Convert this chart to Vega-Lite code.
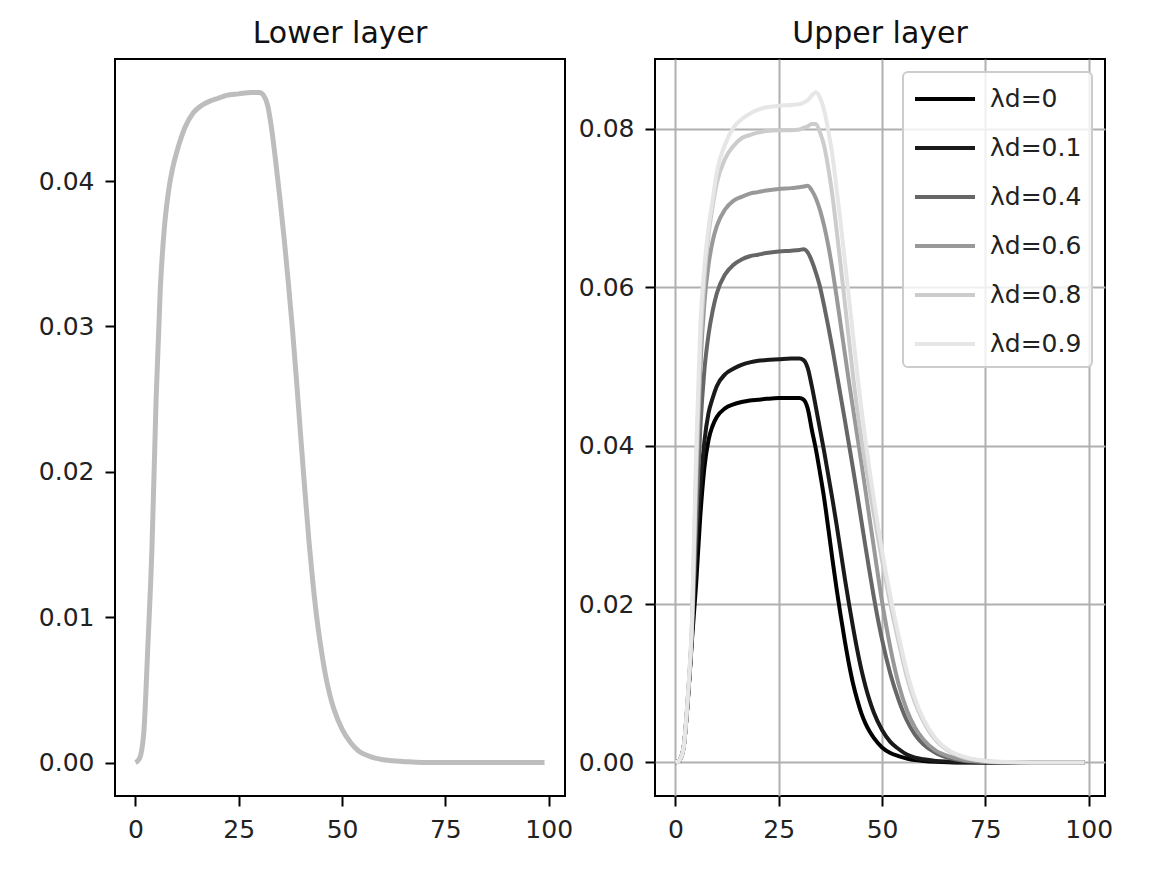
{
  "$schema": "https://vega.github.io/schema/vega-lite/v6.json",
  "background": "white",
  "padding": {"left": 37, "top": 18, "right": 10, "bottom": 10},
  "datasets": {
    "lower": [
      {"x":0,"y":0},{"x":1,"y":0.0003},{"x":2,"y":0.002},{"x":3,"y":0.008},{"x":4,"y":0.0148},{"x":5,"y":0.025},{"x":6,"y":0.0325},{"x":7,"y":0.0368},{"x":8,"y":0.0393},{"x":9,"y":0.0409},{"x":10,"y":0.042},{"x":12,"y":0.0437},{"x":14,"y":0.0447},{"x":16,"y":0.0452},{"x":18,"y":0.0455},{"x":20,"y":0.0457},{"x":22,"y":0.0459},{"x":25,"y":0.046},{"x":28,"y":0.0461},{"x":30,"y":0.0461},{"x":31,"y":0.0459},{"x":32,"y":0.0452},{"x":33,"y":0.0435},{"x":34,"y":0.0412},{"x":35,"y":0.0387},{"x":36,"y":0.036},{"x":37,"y":0.033},{"x":38,"y":0.0298},{"x":39,"y":0.0262},{"x":40,"y":0.0224},{"x":41,"y":0.0187},{"x":42,"y":0.0152},{"x":43,"y":0.0122},{"x":44,"y":0.0097},{"x":45,"y":0.0077},{"x":46,"y":0.006},{"x":47,"y":0.0047},{"x":48,"y":0.0037},{"x":50,"y":0.0023},{"x":52,"y":0.0014},{"x":54,"y":0.0008},{"x":56,"y":0.0005},{"x":58,"y":0.0003},{"x":60,"y":0.0002},{"x":63,"y":0.0001},{"x":66,"y":0.00005},{"x":70,"y":0},{"x":75,"y":0},{"x":80,"y":0},{"x":90,"y":0},{"x":99,"y":0}
    ],
    "upper": [
      {"s":"λd=0","x":0,"y":0},{"s":"λd=0","x":1,"y":0.0003},{"s":"λd=0","x":2,"y":0.002},{"s":"λd=0","x":3,"y":0.0078},{"s":"λd=0","x":4,"y":0.0155},{"s":"λd=0","x":5,"y":0.0225},{"s":"λd=0","x":6,"y":0.031},{"s":"λd=0","x":7,"y":0.0372},{"s":"λd=0","x":8,"y":0.0407},{"s":"λd=0","x":9,"y":0.0425},{"s":"λd=0","x":10,"y":0.0436},{"s":"λd=0","x":12,"y":0.0447},{"s":"λd=0","x":14,"y":0.0452},{"s":"λd=0","x":16,"y":0.0455},{"s":"λd=0","x":18,"y":0.0457},{"s":"λd=0","x":20,"y":0.0458},{"s":"λd=0","x":22,"y":0.0459},{"s":"λd=0","x":25,"y":0.046},{"s":"λd=0","x":28,"y":0.046},{"s":"λd=0","x":30,"y":0.046},{"s":"λd=0","x":31,"y":0.0458},{"s":"λd=0","x":32,"y":0.0447},{"s":"λd=0","x":33,"y":0.042},{"s":"λd=0","x":34,"y":0.0395},{"s":"λd=0","x":35,"y":0.0365},{"s":"λd=0","x":36,"y":0.0333},{"s":"λd=0","x":37,"y":0.0295},{"s":"λd=0","x":38,"y":0.0256},{"s":"λd=0","x":39,"y":0.0219},{"s":"λd=0","x":40,"y":0.0185},{"s":"λd=0","x":41,"y":0.0153},{"s":"λd=0","x":42,"y":0.0124},{"s":"λd=0","x":43,"y":0.0099},{"s":"λd=0","x":44,"y":0.0079},{"s":"λd=0","x":45,"y":0.0062},{"s":"λd=0","x":46,"y":0.0049},{"s":"λd=0","x":47,"y":0.0039},{"s":"λd=0","x":48,"y":0.0031},{"s":"λd=0","x":50,"y":0.0019},{"s":"λd=0","x":52,"y":0.0012},{"s":"λd=0","x":54,"y":0.0008},{"s":"λd=0","x":56,"y":0.0005},{"s":"λd=0","x":58,"y":0.0003},{"s":"λd=0","x":60,"y":0.0002},{"s":"λd=0","x":63,"y":0.0001},{"s":"λd=0","x":66,"y":0.00004},{"s":"λd=0","x":70,"y":0},{"s":"λd=0","x":75,"y":0},{"s":"λd=0","x":80,"y":0},{"s":"λd=0","x":90,"y":0},{"s":"λd=0","x":99,"y":0},
      {"s":"λd=0.1","x":0,"y":0},{"s":"λd=0.1","x":1,"y":0.0003},{"s":"λd=0.1","x":2,"y":0.002},{"s":"λd=0.1","x":3,"y":0.0079},{"s":"λd=0.1","x":4,"y":0.016},{"s":"λd=0.1","x":5,"y":0.027},{"s":"λd=0.1","x":6,"y":0.0345},{"s":"λd=0.1","x":7,"y":0.0405},{"s":"λd=0.1","x":8,"y":0.0441},{"s":"λd=0.1","x":9,"y":0.046},{"s":"λd=0.1","x":10,"y":0.0475},{"s":"λd=0.1","x":12,"y":0.049},{"s":"λd=0.1","x":14,"y":0.0497},{"s":"λd=0.1","x":16,"y":0.0502},{"s":"λd=0.1","x":18,"y":0.0505},{"s":"λd=0.1","x":20,"y":0.0507},{"s":"λd=0.1","x":22,"y":0.0508},{"s":"λd=0.1","x":25,"y":0.0509},{"s":"λd=0.1","x":28,"y":0.051},{"s":"λd=0.1","x":30,"y":0.051},{"s":"λd=0.1","x":31,"y":0.0508},{"s":"λd=0.1","x":32,"y":0.0498},{"s":"λd=0.1","x":33,"y":0.0475},{"s":"λd=0.1","x":34,"y":0.0448},{"s":"λd=0.1","x":35,"y":0.042},{"s":"λd=0.1","x":36,"y":0.0392},{"s":"λd=0.1","x":37,"y":0.0362},{"s":"λd=0.1","x":38,"y":0.0332},{"s":"λd=0.1","x":39,"y":0.03},{"s":"λd=0.1","x":40,"y":0.0266},{"s":"λd=0.1","x":41,"y":0.0232},{"s":"λd=0.1","x":42,"y":0.02},{"s":"λd=0.1","x":43,"y":0.017},{"s":"λd=0.1","x":44,"y":0.0142},{"s":"λd=0.1","x":45,"y":0.0117},{"s":"λd=0.1","x":46,"y":0.0096},{"s":"λd=0.1","x":47,"y":0.0078},{"s":"λd=0.1","x":48,"y":0.0063},{"s":"λd=0.1","x":50,"y":0.0041},{"s":"λd=0.1","x":52,"y":0.0026},{"s":"λd=0.1","x":54,"y":0.0017},{"s":"λd=0.1","x":56,"y":0.001},{"s":"λd=0.1","x":58,"y":0.0006},{"s":"λd=0.1","x":60,"y":0.0004},{"s":"λd=0.1","x":63,"y":0.0002},{"s":"λd=0.1","x":66,"y":0.0001},{"s":"λd=0.1","x":70,"y":0.00002},{"s":"λd=0.1","x":75,"y":0},{"s":"λd=0.1","x":80,"y":0},{"s":"λd=0.1","x":90,"y":0},{"s":"λd=0.1","x":99,"y":0},
      {"s":"λd=0.4","x":0,"y":0},{"s":"λd=0.4","x":1,"y":0.0003},{"s":"λd=0.4","x":2,"y":0.002},{"s":"λd=0.4","x":3,"y":0.008},{"s":"λd=0.4","x":4,"y":0.0165},{"s":"λd=0.4","x":5,"y":0.03},{"s":"λd=0.4","x":6,"y":0.042},{"s":"λd=0.4","x":7,"y":0.0495},{"s":"λd=0.4","x":8,"y":0.054},{"s":"λd=0.4","x":9,"y":0.057},{"s":"λd=0.4","x":10,"y":0.0592},{"s":"λd=0.4","x":12,"y":0.0616},{"s":"λd=0.4","x":14,"y":0.0628},{"s":"λd=0.4","x":16,"y":0.0635},{"s":"λd=0.4","x":18,"y":0.0639},{"s":"λd=0.4","x":20,"y":0.0641},{"s":"λd=0.4","x":22,"y":0.0643},{"s":"λd=0.4","x":25,"y":0.0645},{"s":"λd=0.4","x":28,"y":0.0646},{"s":"λd=0.4","x":30,"y":0.0647},{"s":"λd=0.4","x":31,"y":0.0648},{"s":"λd=0.4","x":32,"y":0.0644},{"s":"λd=0.4","x":33,"y":0.0633},{"s":"λd=0.4","x":34,"y":0.0618},{"s":"λd=0.4","x":35,"y":0.06},{"s":"λd=0.4","x":36,"y":0.0576},{"s":"λd=0.4","x":37,"y":0.055},{"s":"λd=0.4","x":38,"y":0.0522},{"s":"λd=0.4","x":39,"y":0.0492},{"s":"λd=0.4","x":40,"y":0.0462},{"s":"λd=0.4","x":41,"y":0.0432},{"s":"λd=0.4","x":42,"y":0.0401},{"s":"λd=0.4","x":43,"y":0.037},{"s":"λd=0.4","x":44,"y":0.0338},{"s":"λd=0.4","x":45,"y":0.0305},{"s":"λd=0.4","x":46,"y":0.0272},{"s":"λd=0.4","x":47,"y":0.024},{"s":"λd=0.4","x":48,"y":0.0209},{"s":"λd=0.4","x":50,"y":0.0155},{"s":"λd=0.4","x":52,"y":0.0112},{"s":"λd=0.4","x":54,"y":0.0079},{"s":"λd=0.4","x":56,"y":0.0053},{"s":"λd=0.4","x":58,"y":0.0035},{"s":"λd=0.4","x":60,"y":0.0023},{"s":"λd=0.4","x":63,"y":0.0012},{"s":"λd=0.4","x":66,"y":0.0006},{"s":"λd=0.4","x":70,"y":0.0002},{"s":"λd=0.4","x":75,"y":0.00005},{"s":"λd=0.4","x":80,"y":0},{"s":"λd=0.4","x":90,"y":0},{"s":"λd=0.4","x":99,"y":0},
      {"s":"λd=0.6","x":0,"y":0},{"s":"λd=0.6","x":1,"y":0.0003},{"s":"λd=0.6","x":2,"y":0.002},{"s":"λd=0.6","x":3,"y":0.0082},{"s":"λd=0.6","x":4,"y":0.017},{"s":"λd=0.6","x":5,"y":0.034},{"s":"λd=0.6","x":6,"y":0.0495},{"s":"λd=0.6","x":7,"y":0.058},{"s":"λd=0.6","x":8,"y":0.0628},{"s":"λd=0.6","x":9,"y":0.0658},{"s":"λd=0.6","x":10,"y":0.0677},{"s":"λd=0.6","x":12,"y":0.0698},{"s":"λd=0.6","x":14,"y":0.0709},{"s":"λd=0.6","x":16,"y":0.0714},{"s":"λd=0.6","x":18,"y":0.0718},{"s":"λd=0.6","x":20,"y":0.072},{"s":"λd=0.6","x":22,"y":0.0722},{"s":"λd=0.6","x":25,"y":0.0724},{"s":"λd=0.6","x":28,"y":0.0725},{"s":"λd=0.6","x":30,"y":0.0726},{"s":"λd=0.6","x":31,"y":0.0727},{"s":"λd=0.6","x":32,"y":0.0728},{"s":"λd=0.6","x":33,"y":0.0722},{"s":"λd=0.6","x":34,"y":0.0712},{"s":"λd=0.6","x":35,"y":0.0697},{"s":"λd=0.6","x":36,"y":0.0677},{"s":"λd=0.6","x":37,"y":0.0652},{"s":"λd=0.6","x":38,"y":0.0622},{"s":"λd=0.6","x":39,"y":0.0588},{"s":"λd=0.6","x":40,"y":0.0552},{"s":"λd=0.6","x":41,"y":0.0516},{"s":"λd=0.6","x":42,"y":0.048},{"s":"λd=0.6","x":43,"y":0.0446},{"s":"λd=0.6","x":44,"y":0.0412},{"s":"λd=0.6","x":45,"y":0.0378},{"s":"λd=0.6","x":46,"y":0.0343},{"s":"λd=0.6","x":47,"y":0.0307},{"s":"λd=0.6","x":48,"y":0.0272},{"s":"λd=0.6","x":50,"y":0.0203},{"s":"λd=0.6","x":52,"y":0.0145},{"s":"λd=0.6","x":54,"y":0.0099},{"s":"λd=0.6","x":56,"y":0.0066},{"s":"λd=0.6","x":58,"y":0.0044},{"s":"λd=0.6","x":60,"y":0.0029},{"s":"λd=0.6","x":63,"y":0.0015},{"s":"λd=0.6","x":66,"y":0.0008},{"s":"λd=0.6","x":70,"y":0.0003},{"s":"λd=0.6","x":75,"y":0.0001},{"s":"λd=0.6","x":80,"y":0},{"s":"λd=0.6","x":90,"y":0},{"s":"λd=0.6","x":99,"y":0},
      {"s":"λd=0.8","x":0,"y":0},{"s":"λd=0.8","x":1,"y":0.0003},{"s":"λd=0.8","x":2,"y":0.002},{"s":"λd=0.8","x":3,"y":0.0083},{"s":"λd=0.8","x":4,"y":0.0175},{"s":"λd=0.8","x":5,"y":0.037},{"s":"λd=0.8","x":6,"y":0.052},{"s":"λd=0.8","x":7,"y":0.061},{"s":"λd=0.8","x":8,"y":0.0665},{"s":"λd=0.8","x":9,"y":0.0702},{"s":"λd=0.8","x":10,"y":0.0731},{"s":"λd=0.8","x":12,"y":0.0762},{"s":"λd=0.8","x":14,"y":0.0778},{"s":"λd=0.8","x":16,"y":0.0788},{"s":"λd=0.8","x":18,"y":0.0792},{"s":"λd=0.8","x":20,"y":0.0795},{"s":"λd=0.8","x":22,"y":0.0797},{"s":"λd=0.8","x":25,"y":0.0798},{"s":"λd=0.8","x":28,"y":0.0798},{"s":"λd=0.8","x":30,"y":0.0799},{"s":"λd=0.8","x":31,"y":0.0801},{"s":"λd=0.8","x":32,"y":0.0803},{"s":"λd=0.8","x":33,"y":0.0806},{"s":"λd=0.8","x":34,"y":0.0806},{"s":"λd=0.8","x":35,"y":0.0795},{"s":"λd=0.8","x":36,"y":0.0778},{"s":"λd=0.8","x":37,"y":0.075},{"s":"λd=0.8","x":38,"y":0.0715},{"s":"λd=0.8","x":39,"y":0.0672},{"s":"λd=0.8","x":40,"y":0.0626},{"s":"λd=0.8","x":41,"y":0.058},{"s":"λd=0.8","x":42,"y":0.0533},{"s":"λd=0.8","x":43,"y":0.0487},{"s":"λd=0.8","x":44,"y":0.0445},{"s":"λd=0.8","x":45,"y":0.0408},{"s":"λd=0.8","x":46,"y":0.0376},{"s":"λd=0.8","x":47,"y":0.0345},{"s":"λd=0.8","x":48,"y":0.0314},{"s":"λd=0.8","x":50,"y":0.0255},{"s":"λd=0.8","x":52,"y":0.02},{"s":"λd=0.8","x":54,"y":0.0152},{"s":"λd=0.8","x":56,"y":0.0108},{"s":"λd=0.8","x":58,"y":0.0075},{"s":"λd=0.8","x":60,"y":0.0052},{"s":"λd=0.8","x":63,"y":0.0028},{"s":"λd=0.8","x":66,"y":0.0015},{"s":"λd=0.8","x":70,"y":0.0006},{"s":"λd=0.8","x":75,"y":0.0002},{"s":"λd=0.8","x":80,"y":0.00005},{"s":"λd=0.8","x":90,"y":0},{"s":"λd=0.8","x":99,"y":0},
      {"s":"λd=0.9","x":0,"y":0},{"s":"λd=0.9","x":1,"y":0.0003},{"s":"λd=0.9","x":2,"y":0.002},{"s":"λd=0.9","x":3,"y":0.0085},{"s":"λd=0.9","x":4,"y":0.018},{"s":"λd=0.9","x":5,"y":0.039},{"s":"λd=0.9","x":6,"y":0.055},{"s":"λd=0.9","x":7,"y":0.0625},{"s":"λd=0.9","x":8,"y":0.0675},{"s":"λd=0.9","x":9,"y":0.071},{"s":"λd=0.9","x":10,"y":0.0745},{"s":"λd=0.9","x":12,"y":0.078},{"s":"λd=0.9","x":14,"y":0.0801},{"s":"λd=0.9","x":16,"y":0.0812},{"s":"λd=0.9","x":18,"y":0.0819},{"s":"λd=0.9","x":20,"y":0.0824},{"s":"λd=0.9","x":22,"y":0.0827},{"s":"λd=0.9","x":25,"y":0.0829},{"s":"λd=0.9","x":28,"y":0.083},{"s":"λd=0.9","x":30,"y":0.0831},{"s":"λd=0.9","x":31,"y":0.0833},{"s":"λd=0.9","x":32,"y":0.0836},{"s":"λd=0.9","x":33,"y":0.0842},{"s":"λd=0.9","x":34,"y":0.0846},{"s":"λd=0.9","x":35,"y":0.0839},{"s":"λd=0.9","x":36,"y":0.0823},{"s":"λd=0.9","x":37,"y":0.0797},{"s":"λd=0.9","x":38,"y":0.0766},{"s":"λd=0.9","x":39,"y":0.0724},{"s":"λd=0.9","x":40,"y":0.068},{"s":"λd=0.9","x":41,"y":0.0633},{"s":"λd=0.9","x":42,"y":0.0586},{"s":"λd=0.9","x":43,"y":0.0538},{"s":"λd=0.9","x":44,"y":0.0491},{"s":"λd=0.9","x":45,"y":0.0447},{"s":"λd=0.9","x":46,"y":0.0406},{"s":"λd=0.9","x":47,"y":0.0368},{"s":"λd=0.9","x":48,"y":0.0333},{"s":"λd=0.9","x":50,"y":0.0267},{"s":"λd=0.9","x":52,"y":0.021},{"s":"λd=0.9","x":54,"y":0.016},{"s":"λd=0.9","x":56,"y":0.0115},{"s":"λd=0.9","x":58,"y":0.008},{"s":"λd=0.9","x":60,"y":0.0055},{"s":"λd=0.9","x":63,"y":0.003},{"s":"λd=0.9","x":66,"y":0.0016},{"s":"λd=0.9","x":70,"y":0.0007},{"s":"λd=0.9","x":75,"y":0.0002},{"s":"λd=0.9","x":80,"y":0.00005},{"s":"λd=0.9","x":90,"y":0},{"s":"λd=0.9","x":99,"y":0}
    ]
  },
  "spacing": 90,
  "bounds": "flush",
  "resolve": {"legend": {"color": "independent"}, "scale": {"color": "independent"}},
  "hconcat": [
    {
      "title": "Lower layer",
      "width": 450,
      "height": 737,
      "data": {"name": "lower"},
      "mark": {"type": "line", "color": "#bdbdbd", "strokeWidth": 5, "interpolate": "monotone"},
      "encoding": {
        "x": {"field": "x", "type": "quantitative", "title": null,
              "scale": {"domain": [-4.95, 103.95], "nice": false, "zero": false},
              "axis": {"values": [0, 25, 50, 75, 100]}},
        "y": {"field": "y", "type": "quantitative", "title": null,
              "scale": {"domain": [-0.0023, 0.0484], "nice": false, "zero": false},
              "axis": {"values": [0, 0.01, 0.02, 0.03, 0.04], "format": ".2f"}}
      }
    },
    {
      "title": "Upper layer",
      "width": 450,
      "height": 737,
      "data": {"name": "upper"},
      "mark": {"type": "line", "strokeWidth": 4, "interpolate": "monotone"},
      "encoding": {
        "x": {"field": "x", "type": "quantitative", "title": null,
              "scale": {"domain": [-4.95, 103.95], "nice": false, "zero": false},
              "axis": {"values": [0, 25, 50, 75, 100], "grid": true}},
        "y": {"field": "y", "type": "quantitative", "title": null,
              "scale": {"domain": [-0.00423, 0.0888], "nice": false, "zero": false},
              "axis": {"values": [0, 0.02, 0.04, 0.06, 0.08], "format": ".2f", "grid": true}},
        "color": {"field": "s", "type": "nominal",
                  "scale": {"domain": ["λd=0", "λd=0.1", "λd=0.4", "λd=0.6", "λd=0.8", "λd=0.9"],
                            "range": ["#000000", "#1a1a1a", "#666666", "#999999", "#cccccc", "#e6e6e6"]},
                  "legend": {"orient": "top-right", "offset": 13, "title": null,
                             "symbolType": "M-1,0H3", "symbolSize": 900, "symbolStrokeWidth": 4,
                             "labelFontSize": 25, "labelOffset": 43, "rowPadding": 19, "padding": 10,
                             "strokeColor": "#cccccc", "fillColor": "rgba(255,255,255,0.8)",
                             "cornerRadius": 5, "labelColor": "#222222", "labelFont": "DejaVu Sans",
                             "labelLimit": 300}}
      }
    }
  ],
  "config": {
    "font": "DejaVu Sans",
    "view": {"stroke": "#000000", "strokeWidth": 2},
    "axis": {"domain": false, "tickColor": "#000000", "tickWidth": 2, "tickSize": 10,
             "labelPadding": 11, "labelFontSize": 25, "labelColor": "#222222", "labelFont": "DejaVu Sans",
             "labelFlush": false, "labelOverlap": false, "grid": false,
             "gridColor": "#b0b0b0", "gridWidth": 2},
    "legend": {"strokeWidth": 2},
    "title": {"fontSize": 30, "fontWeight": "normal", "font": "DejaVu Sans", "color": "#111111", "offset": 10}
  }
}
